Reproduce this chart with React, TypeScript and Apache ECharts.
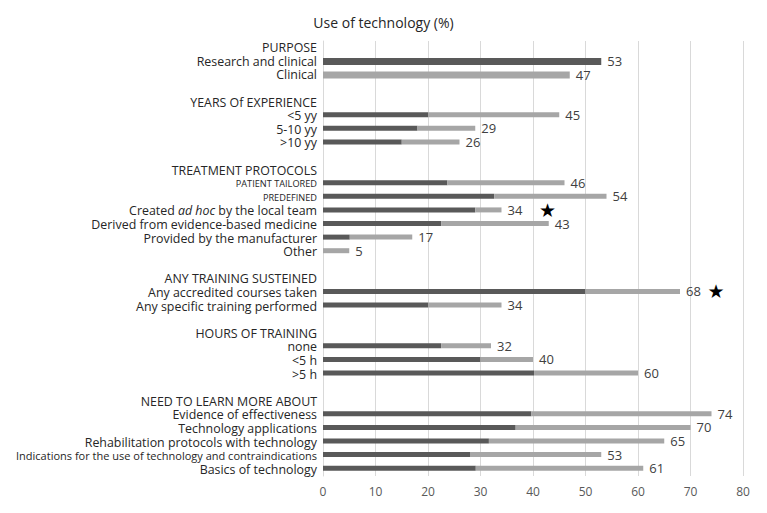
import React, { useEffect, useRef } from "react";
import * as echarts from "echarts";

const chartTitle = "Use of technology (%)";

const categories = [
  "PURPOSE",
  "Research and clinical",
  "Clinical",
  "",
  "YEARS Of EXPERIENCE",
  "<5 yy",
  "5-10 yy",
  ">10 yy",
  "",
  "TREATMENT PROTOCOLS",
  "PATIENT TAILORED",
  "PREDEFINED",
  "Created ad hoc by the local team",
  "Derived from evidence-based medicine",
  "Provided by the manufacturer",
  "Other",
  "",
  "ANY TRAINING SUSTEINED",
  "Any accredited courses taken",
  "Any specific training performed",
  "",
  "HOURS OF TRAINING",
  "none",
  "<5 h",
  ">5 h",
  "",
  "NEED TO LEARN MORE ABOUT",
  "Evidence of effectiveness",
  "Technology applications",
  "Rehabilitation protocols with technology",
  "Indications for the use of technology and contraindications",
  "Basics of technology",
];

const headers = [
  "PURPOSE",
  "YEARS Of EXPERIENCE",
  "TREATMENT PROTOCOLS",
  "ANY TRAINING SUSTEINED",
  "HOURS OF TRAINING",
  "NEED TO LEARN MORE ABOUT",
];

// dark segment of each bar
const darkValues: (number | null)[] = [
  null, 53, 0, null,
  null, 20, 18, 15, null,
  null, 23.7, 32.6, 29, 22.5, 5.1, 0, null,
  null, 50, 20, null,
  null, 22.5, 30, 40.2, null,
  null, 39.7, 36.7, 31.6, 28, 29.1,
];

// total (labelled) value of each bar
const totals: (number | null)[] = [
  null, 53, 47, null,
  null, 45, 29, 26, null,
  null, 46, 54, 34, 43, 17, 5, null,
  null, 68, 34, null,
  null, 32, 40, 60, null,
  null, 74, 70, 65, 53, 61,
];

// rows flagged with a star
const starred = ["Created ad hoc by the local team", "Any accredited courses taken"];

const thickSection = "PURPOSE";

const xTicks = [0, 10, 20, 30, 40, 50, 60, 70, 80];

const FONT = "'Open Sans', sans-serif";
const DARK = "#595959";
const LIGHT = "#a6a6a6";
const TXT = "#262626";

export default function App() {
  const ref = useRef<HTMLDivElement>(null);

  useEffect(() => {
    document.body.style.margin = "0";
    if (!ref.current) return;
    const chart = echarts.init(ref.current, undefined, { renderer: "svg" });

    const sectionOf: string[] = [];
    let current = "";
    categories.forEach((c) => {
      if (headers.includes(c)) current = c;
      sectionOf.push(current);
    });
    const isThick = (i: number) => sectionOf[i] === thickSection && !headers.includes(categories[i]);

    const lightValues = totals.map((t, i) =>
      t == null ? null : +(t - (darkValues[i] ?? 0)).toFixed(2)
    );

    const pick = (arr: (number | null)[], thick: boolean) =>
      arr.map((v, i) => (v == null ? null : isThick(i) === thick ? v : null));

    const labelFormatter = (p: any) => {
      const i = p.dataIndex;
      const t = totals[i];
      if (t == null) return "";
      const name = categories[i];
      if (starred.includes(name)) {
        const pad = name.startsWith("Created") ? "     " : "  ";
        return `{v|${t}}${pad}{s|★}`;
      }
      return `{v|${t}}`;
    };

    const label = {
      show: true,
      position: "right" as const,
      distance: 6,
      formatter: labelFormatter,
      rich: {
        v: { fontFamily: FONT, fontSize: 13, color: "#404040", lineHeight: 14 },
        s: { fontFamily: "DejaVu Sans", fontSize: 19, color: "#000", lineHeight: 14 },
      },
    };

    const makeSeries = (thick: boolean) => {
      const stack = thick ? "thick" : "thin";
      const w = thick ? 7 : 5;
      return [
        {
          type: "bar",
          stack,
          barWidth: w,
          barGap: "-100%",
          data: pick(darkValues, thick),
          itemStyle: { color: DARK },
          silent: true,
        },
        {
          type: "bar",
          stack,
          barWidth: w,
          barGap: "-100%",
          data: pick(lightValues, thick),
          itemStyle: { color: LIGHT },
          label,
          silent: true,
        },
      ];
    };

    chart.setOption({
      animation: false,
      title: {
        text: chartTitle,
        left: "center",
        top: 10,
        textStyle: { fontFamily: FONT, fontSize: 14, fontWeight: "normal", color: TXT },
      },
      grid: { left: 323, right: 24, top: 41, bottom: 37, containLabel: false },
      xAxis: {
        type: "value",
        min: xTicks[0],
        max: xTicks[xTicks.length - 1],
        interval: xTicks[1] - xTicks[0],
        axisLine: { show: false },
        axisTick: { show: false },
        splitLine: { show: true, lineStyle: { color: "#d9d9d9", width: 1 } },
        axisLabel: { fontFamily: FONT, fontSize: 12, color: "#595959", margin: 9 },
      },
      yAxis: {
        type: "category",
        inverse: true,
        data: categories,
        axisLine: { show: true, lineStyle: { color: "#d9d9d9" } },
        axisTick: { show: false },
        axisLabel: {
          interval: 0,
          margin: 6,
          fontFamily: FONT,
          fontSize: 12.4,
          color: TXT,
          formatter: (val: string) => {
            if (val === "PATIENT TAILORED" || val === "PREDEFINED") return `{sm|${val}}`;
            if (val.startsWith("Indications")) return `{md|${val}}`;
            if (val.includes("ad hoc")) {
              const [a, b] = val.split("ad hoc");
              return `{n|${a}}{i|ad hoc}{n|${b}}`;
            }
            return `{n|${val}}`;
          },
          rich: {
            n: { fontFamily: FONT, fontSize: 12.4, color: TXT, lineHeight: 13 },
            i: { fontFamily: FONT, fontSize: 12.4, fontStyle: "italic", color: TXT, lineHeight: 13 },
            sm: { fontFamily: FONT, fontSize: 9.2, color: TXT, lineHeight: 13 },
            md: { fontFamily: FONT, fontSize: 11, color: TXT, lineHeight: 13 },
          },
        },
      },
      series: [...makeSeries(false), ...makeSeries(true)],
    });

    return () => chart.dispose();
  }, []);

  return <div ref={ref} style={{ width: 767, height: 513 }} />;
}
